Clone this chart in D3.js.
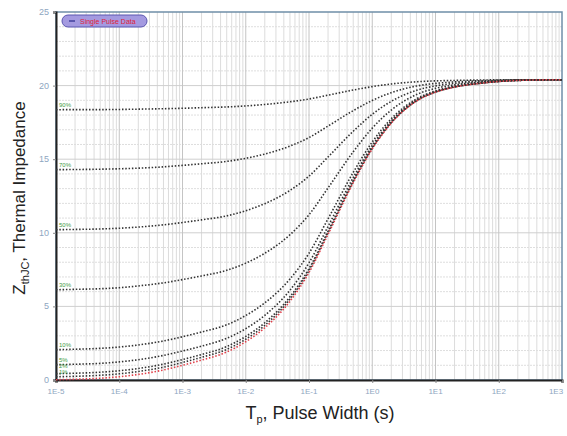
<!DOCTYPE html>
<html>
<head>
<meta charset="utf-8">
<script src="https://cdn.jsdelivr.net/npm/d3@7"></script>
<style>
  html, body { margin: 0; padding: 0; background: #fff; }
  svg { display: block; font-family: Arial, "Liberation Sans", sans-serif; }
</style>
</head>
<body>
<svg id="chart" width="567" height="436"></svg>
<script>
// pulse widths (s)
const pulseWidths = [1e-5, 2e-5, 5e-5, 1e-4, 2e-4, 5e-4, 1e-3, 2e-3, 5e-3, 1e-2, 2e-2, 5e-2,
  1e-1, 2e-1, 5e-1, 1, 2, 5, 10, 20, 50, 100, 200, 500, 1000];

// thermal impedance per duty cycle
const duty90 = [18.36, 18.37, 18.37, 18.38, 18.40, 18.43, 18.46, 18.50, 18.55, 18.62, 18.72, 18.90, 19.09, 19.35, 19.70, 19.93, 20.11, 20.26, 20.32, 20.35, 20.38, 20.39, 20.40, 20.40, 20.40];
const duty70 = [14.29, 14.30, 14.32, 14.35, 14.39, 14.48, 14.58, 14.69, 14.85, 15.06, 15.35, 15.89, 16.47, 17.25, 18.30, 18.99, 19.52, 19.97, 20.15, 20.25, 20.33, 20.36, 20.39, 20.40, 20.40];
const duty50 = [10.21, 10.23, 10.26, 10.31, 10.39, 10.54, 10.70, 10.88, 11.15, 11.50, 11.98, 12.88, 13.85, 15.15, 16.90, 18.05, 18.93, 19.68, 19.98, 20.15, 20.28, 20.34, 20.38, 20.40, 20.40];
const duty30 = [6.13, 6.16, 6.20, 6.27, 6.39, 6.60, 6.82, 7.07, 7.45, 7.94, 8.61, 9.87, 11.23, 13.05, 15.50, 17.11, 18.34, 19.39, 19.81, 20.05, 20.23, 20.32, 20.37, 20.39, 20.40];
const duty10 = [2.06, 2.09, 2.15, 2.24, 2.38, 2.65, 2.94, 3.26, 3.75, 4.38, 5.24, 6.86, 8.61, 10.95, 14.10, 16.17, 17.75, 19.10, 19.64, 19.95, 20.18, 20.29, 20.36, 20.39, 20.40];
const duty5 = [1.04, 1.07, 1.13, 1.23, 1.38, 1.67, 1.97, 2.30, 2.83, 3.49, 4.39, 6.10, 7.96, 10.43, 13.75, 15.94, 17.60, 19.02, 19.59, 19.93, 20.16, 20.29, 20.35, 20.39, 20.40];
const duty2 = [0.43, 0.46, 0.53, 0.63, 0.78, 1.08, 1.39, 1.73, 2.27, 2.96, 3.89, 5.65, 7.56, 10.11, 13.54, 15.80, 17.51, 18.98, 19.57, 19.91, 20.16, 20.28, 20.35, 20.39, 20.40];
const duty1 = [0.22, 0.25, 0.32, 0.42, 0.58, 0.87, 1.19, 1.54, 2.08, 2.77, 3.71, 5.50, 7.43, 10.00, 13.47, 15.74, 17.48, 18.96, 19.56, 19.90, 20.15, 20.28, 20.35, 20.39, 20.40];
const singlePulse = [0.02, 0.05, 0.12, 0.22, 0.38, 0.68, 1.00, 1.35, 1.90, 2.60, 3.55, 5.35, 7.30, 9.90, 13.40, 15.70, 17.45, 18.95, 19.55, 19.90, 20.15, 20.28, 20.35, 20.39, 20.40];

const dutyLabels = ['90%', '70%', '50%', '30%', '10%', '5%', '2%', '1%'];
const xTickValues = [1e-5, 1e-4, 1e-3, 1e-2, 1e-1, 1, 10, 100, 1000];
const xTickLabels = ['1E-5', '1E-4', '1E-3', '1E-2', '1E-1', '1E0', '1E1', '1E2', '1E3'];
const yTickValues = [0, 5, 10, 15, 20, 25];

const width = 567, height = 436;
const margin = { top: 12, right: 5, bottom: 56, left: 56 };
const innerWidth = width - margin.left - margin.right;
const innerHeight = height - margin.top - margin.bottom;

const svg = d3.select('#chart');
const group = svg.append('g').attr('transform', `translate(${margin.left},${margin.top})`);

const xScale = d3.scaleLog().domain([1e-5, 1e3]).range([0, innerWidth]);
const yScale = d3.scaleLinear().domain([0, 25]).range([innerHeight, 0]);

// grid
const minorX = [];
for (let e = -5; e < 3; e++) {
  for (let m = 2; m <= 9; m++) minorX.push(m * Math.pow(10, e));
}
group.append('g')
  .selectAll('line')
  .data(minorX)
  .enter()
  .append('line')
  .attr('x1', (d) => xScale(d))
  .attr('x2', (d) => xScale(d))
  .attr('y1', 0)
  .attr('y2', innerHeight)
  .attr('stroke', '#dcdcdc')
  .attr('stroke-width', 1);
group.append('g')
  .selectAll('line')
  .data(d3.range(1, 25))
  .enter()
  .append('line')
  .attr('x1', 0)
  .attr('x2', innerWidth)
  .attr('y1', (d) => yScale(d))
  .attr('y2', (d) => yScale(d))
  .attr('stroke', (d) => (d % 5 === 0 ? '#cfcfcf' : '#dedede'))
  .attr('stroke-width', 1)
  .attr('stroke-dasharray', (d) => (d % 5 === 0 ? null : '2 1'));
group.append('g')
  .selectAll('line')
  .data(xTickValues.slice(1, -1))
  .enter()
  .append('line')
  .attr('x1', (d) => xScale(d))
  .attr('x2', (d) => xScale(d))
  .attr('y1', 0)
  .attr('y2', innerHeight)
  .attr('stroke', '#c4c4c4')
  .attr('stroke-width', 1);

// frame
group.append('rect')
  .attr('x', 0)
  .attr('y', 0)
  .attr('width', innerWidth)
  .attr('height', innerHeight)
  .attr('fill', 'none')
  .attr('stroke', '#6f8ea8')
  .attr('stroke-width', 1.5);

// axes (ticks only, labels drawn below)
const xAxis = group.append('g')
  .attr('transform', `translate(0,${innerHeight})`)
  .call(d3.axisBottom(xScale).tickValues(xTickValues).tickSize(3).tickFormat(''));
xAxis.select('.domain').attr('stroke', '#222').attr('stroke-width', 2);
xAxis.selectAll('.tick line').attr('stroke', '#888');

const yAxis = group.append('g')
  .call(d3.axisLeft(yScale).tickValues(yTickValues).tickSize(3).tickFormat(''));
yAxis.select('.domain').attr('stroke', '#222').attr('stroke-width', 2);
yAxis.selectAll('.tick line').attr('stroke', '#888');

group.append('g')
  .selectAll('text')
  .data(xTickValues)
  .enter()
  .append('text')
  .attr('x', (d, i) => xScale(d) - (i === xTickValues.length - 1 ? 6 : 0))
  .attr('y', innerHeight + 14)
  .attr('text-anchor', 'middle')
  .attr('font-size', 8)
  .attr('fill', '#8ea6bf')
  .text((d, i) => xTickLabels[i]);

group.append('g')
  .selectAll('text')
  .data(yTickValues)
  .enter()
  .append('text')
  .attr('x', -7)
  .attr('y', (d) => yScale(d) + 3)
  .attr('text-anchor', 'end')
  .attr('font-size', 9)
  .attr('fill', '#8ea6bf')
  .text((d) => d);

// curves
const series = [duty90, duty70, duty50, duty30, duty10, duty5, duty2, duty1];
const line = d3.line()
  .x((d, i) => xScale(pulseWidths[i]))
  .y((d) => yScale(d))
  .curve(d3.curveMonotoneX);

series.forEach((values) => {
  group.append('path')
    .datum(values)
    .attr('d', line)
    .attr('fill', 'none')
    .attr('stroke', '#333')
    .attr('stroke-width', 1.6)
    .attr('stroke-dasharray', '1.5 1.8');
});
group.append('path')
  .datum(singlePulse)
  .attr('d', line)
  .attr('fill', 'none')
  .attr('stroke', '#e0404a')
  .attr('stroke-width', 1.6)
  .attr('stroke-dasharray', '1.5 1.8');

// duty labels, nudged apart where curves crowd together
const labelY = series.map((values) => yScale(values[0]) - 3);
for (let i = labelY.length - 2; i >= 0; i--) {
  labelY[i] = Math.min(labelY[i], labelY[i + 1] - 6);
}
series.forEach((values, i) => {
  group.append('text')
    .attr('x', 3)
    .attr('y', labelY[i])
    .attr('font-size', 6)
    .attr('fill', '#3f9a3f')
    .text(dutyLabels[i]);
});

// legend
const legend = group.append('g').attr('transform', 'translate(6,3)');
legend.append('rect')
  .attr('width', 85)
  .attr('height', 12)
  .attr('rx', 6)
  .attr('fill', '#a49ae0')
  .attr('stroke', '#5b56b0')
  .attr('stroke-width', 1);
legend.append('line')
  .attr('x1', 7)
  .attr('x2', 13)
  .attr('y1', 6)
  .attr('y2', 6)
  .attr('stroke', '#2b2b8a')
  .attr('stroke-width', 1.2);
legend.append('text')
  .attr('x', 18)
  .attr('y', 8.5)
  .attr('font-size', 7)
  .attr('fill', '#e0203a')
  .text('Single Pulse Data');

// axis titles
const xTitle = svg.append('text')
  .attr('x', 320)
  .attr('y', 419)
  .attr('text-anchor', 'middle')
  .attr('font-size', 18)
  .attr('fill', '#222');
xTitle.append('tspan').text('T');
xTitle.append('tspan').attr('font-size', 11).attr('dy', 4).text('p');
xTitle.append('tspan').attr('dy', -4).text(', Pulse Width (s)');

const yTitle = svg.append('text')
  .attr('transform', 'translate(25,198) rotate(-90)')
  .attr('text-anchor', 'middle')
  .attr('font-size', 17)
  .attr('fill', '#222');
yTitle.append('tspan').text('Z');
yTitle.append('tspan').attr('font-size', 11).attr('dy', 4).text('thJC');
yTitle.append('tspan').attr('dy', -4).text(', Thermal Impedance');
</script>
</body>
</html>
